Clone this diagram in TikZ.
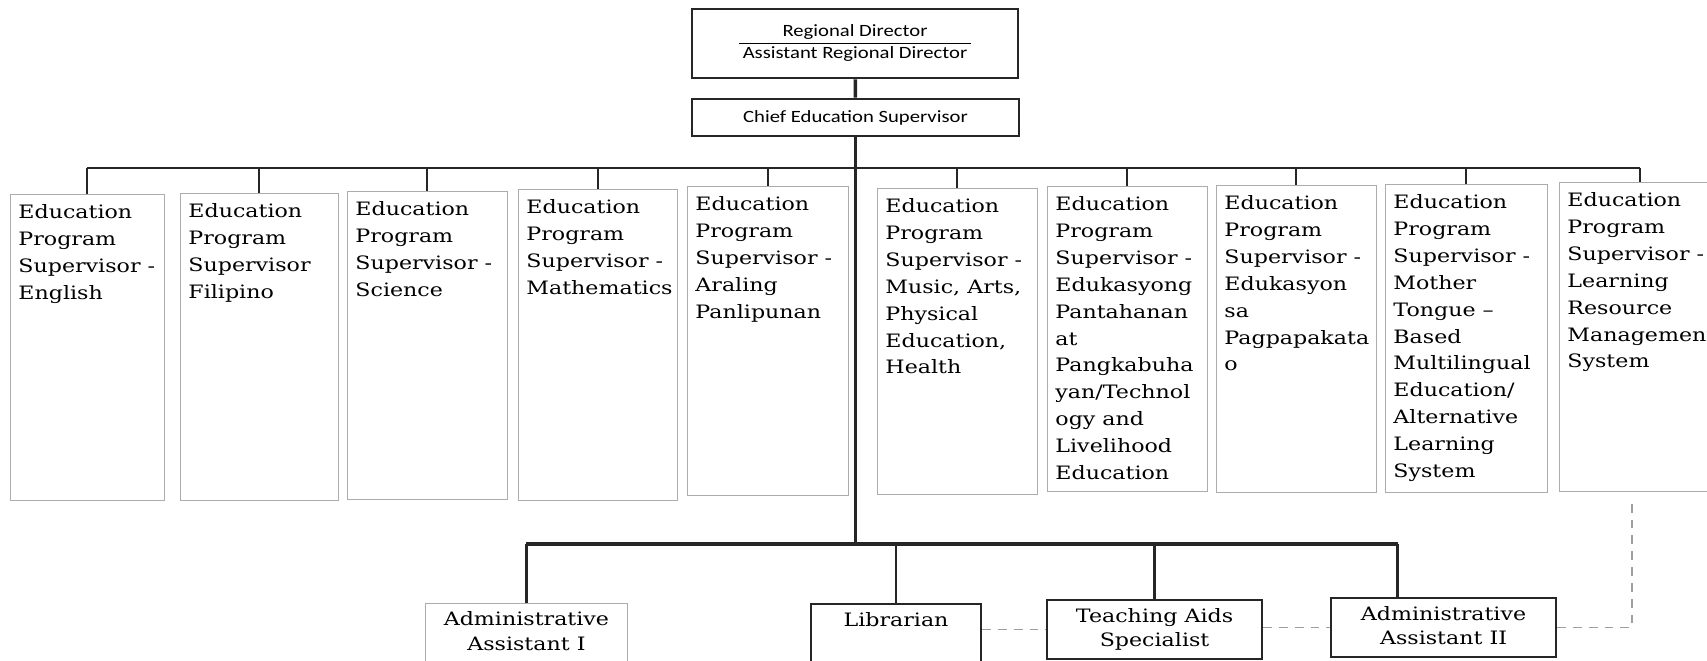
\documentclass[tikz,border=0pt]{standalone}
\usepackage{fontspec}
\usepackage{tikz}
\usetikzlibrary{positioning, calc}
\newfontfamily\supserif{DejaVu Serif}[FakeStretch=1.2, Ligatures=TeX]
\newfontfamily\headsans{Carlito}[FakeStretch=1.2, Ligatures=TeX]
\newlength{\pxu}
\setlength{\pxu}{0.2mm}
\newcommand{\boxtext}[3]{\parbox[t][#2\pxu][t]{#1\pxu}{\raggedright #3}}
\newcommand{\boxtextc}[3]{\parbox[t][#2\pxu][t]{#1\pxu}{\centering #3}}

\begin{document}
\begin{tikzpicture}[x=0.2mm, y=-0.2mm,
        supbox/.style={draw=gray!65, line width=0.6pt, anchor=north west, inner xsep=4.5pt, inner ysep=5.7pt,
            font={\supserif\fontsize{10.5pt}{15.3pt}\selectfont}},
        lowbox/.style={draw=black!85, line width=1.3pt, anchor=north west, inner xsep=4.5pt, inner ysep=4.5pt,
            font={\supserif\fontsize{10.5pt}{14pt}\selectfont}},
        headbox/.style={draw=black!85, line width=1.5pt, inner sep=0pt,
            font={\headsans\fontsize{9.8pt}{12pt}\selectfont}},
        conn/.style={draw=black!85, line width=1.3pt},
        trunk/.style={draw=black!85, line width=2pt},
        dashlink/.style={draw=gray!75, line width=0.8pt, dash pattern=on 5pt off 4pt}]
    \useasboundingbox (0,0) rectangle (1707,660);
        \node[headbox, minimum width=65.2mm, minimum height=13.8mm] (rd) at (855,43.5)
            {\begin{tabular}{@{\hspace{2pt}}c@{\hspace{2pt}}}Regional Director\\ \hline Assistant Regional Director\end{tabular}};
        \node[headbox, minimum width=65.4mm, minimum height=7.4mm] (ces) at (855.5,117.5) {Chief Education Supervisor};
        \node[supbox] (sup1) at (10,194) {\boxtext{138}{286}{Education\\Program\\Supervisor -\\English}};
        \node[supbox] (sup2) at (180,193) {\boxtext{142}{287}{Education\\Program\\Supervisor\\Filipino}};
        \node[supbox] (sup3) at (347,191) {\boxtext{144}{288}{Education\\Program\\Supervisor -\\Science}};
        \node[supbox] (sup4) at (518,189) {\boxtext{143}{291}{Education\\Program\\Supervisor -\\Mathematics}};
        \node[supbox] (sup5) at (687,186) {\boxtext{145}{289}{Education\\Program\\Supervisor -\\Araling\\Panlipunan}};
        \node[supbox] (sup6) at (877,188) {\boxtext{144}{286}{Education\\Program\\Supervisor -\\Music, Arts,\\Physical\\Education,\\Health}};
        \node[supbox] (sup7) at (1047,186) {\boxtext{144}{285}{Education\\Program\\Supervisor -\\Edukasyong\\Pantahanan\\at\\Pangkabuha\\yan/Technol\\ogy and\\Livelihood\\Education}};
        \node[supbox] (sup8) at (1216,185) {\boxtext{144}{287}{Education\\Program\\Supervisor -\\Edukasyon\\sa\\Pagpapakata\\o}};
        \node[supbox] (sup9) at (1385,184) {\boxtext{146}{288}{Education\\Program\\Supervisor -\\Mother\\Tongue –\\Based\\Multilingual\\Education/\\Alternative\\Learning\\System}};
        \node[supbox] (sup10) at (1559,182) {\boxtext{145}{289}{Education\\Program\\Supervisor -\\Learning\\Resource\\Management\\System}};
        \node[lowbox, draw=gray!65, line width=0.6pt] (adm1) at (425,603) {\boxtextc{186}{52}{Administrative\\Assistant I}};
        \node[lowbox] (lib) at (810,603) {\boxtextc{154}{46}{Librarian}};
        \node[lowbox] (ta) at (1046,599) {\boxtextc{199}{43}{Teaching Aids\\Specialist}};
        \node[lowbox] (adm2) at (1330,597) {\boxtextc{209}{43}{Administrative\\Assistant II}};
        \coordinate (tb) at (861,168);
        \coordinate (bb) at (861,544);
        \draw[trunk] (rd) -- (ces);
        \draw[trunk] (ces) -- (ces.south |- bb);
        \draw[conn] (tb -| sup1.north) -- (tb -| sup10.north);
        \foreach \i in {1,...,10}
            \draw[conn, line width=1.1pt] (tb -| sup\i.north) -- (sup\i.north);
        \draw[trunk] (bb -| adm1.north) -- ([xshift=-9.2mm]adm2.north |- bb);
        \draw[conn] (bb -| adm1.north) -- (adm1.north);
        \draw[conn] (bb -| lib.north) -- (lib.north);
        \draw[conn] (bb -| ta.north) -- (ta.north);
        \draw[conn] ([xshift=-9.2mm]adm2.north |- bb) -- ([xshift=-9.2mm]adm2.north);
        \draw[dashlink] (ta.west -| lib.east) -- (ta.west);
        \draw[dashlink] (adm2.west -| ta.east) -- (adm2.west);
        \draw[dashlink] (adm2.east) -| ([xshift=-1.6mm,yshift=-1.2mm]sup10.south);
    \end{tikzpicture}
\end{document}
